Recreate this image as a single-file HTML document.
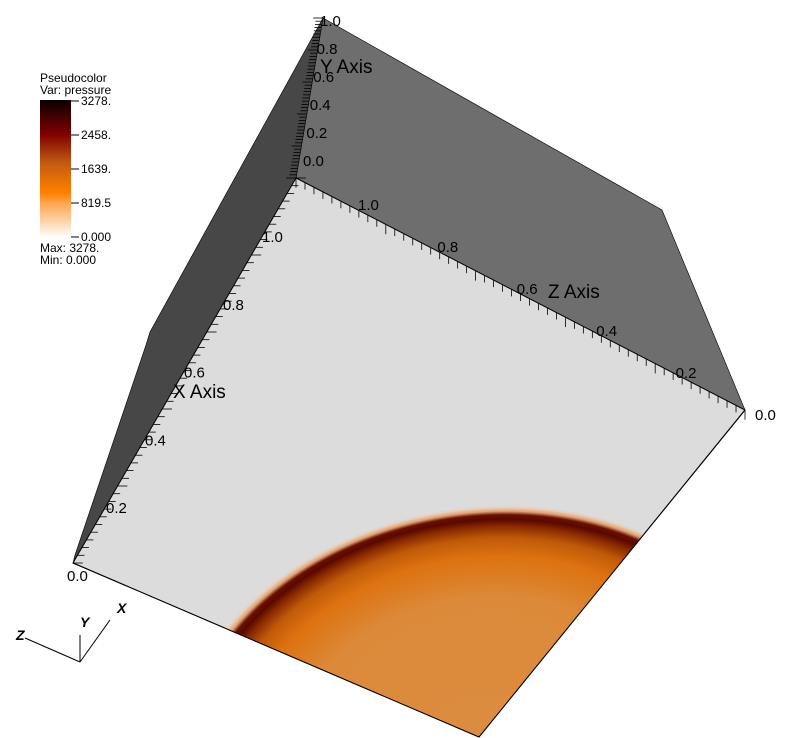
<!DOCTYPE html>
<html><head><meta charset="utf-8"><style>
html,body{margin:0;background:#fff;width:798px;height:738px;overflow:hidden;font-family:"Liberation Sans",sans-serif}
svg{display:block}
svg text{font-family:"Liberation Sans",sans-serif}
</style></head><body>
<svg id="s" width="798" height="738" viewBox="0 0 798 738">
<defs>
<linearGradient id="cb" x1="0" y1="1" x2="0" y2="0">
<stop offset="0" stop-color="#ffffff"/><stop offset="0.25" stop-color="#ffa650"/><stop offset="0.33" stop-color="#ff8000"/>
<stop offset="0.55" stop-color="#c05a10"/><stop offset="0.75" stop-color="#800000"/><stop offset="1" stop-color="#0a0000"/>
</linearGradient>
<clipPath id="fc"><polygon points="296,178 745,410 479,737 73,563"/></clipPath>
<radialGradient id="rg" gradientUnits="userSpaceOnUse" cx="0" cy="0" r="0.625">
<stop offset="0" stop-color="#dc8c40"/><stop offset="0.6" stop-color="#dc8a3a"/><stop offset="0.78" stop-color="#dd7210"/>
<stop offset="0.86" stop-color="#c05a08"/><stop offset="0.91" stop-color="#8a2a00"/><stop offset="0.94" stop-color="#5a0800"/>
<stop offset="0.96" stop-color="#6a1000"/><stop offset="0.975" stop-color="#e0a070"/><stop offset="0.99" stop-color="#e8cfb8"/><stop offset="1" stop-color="#dcdcdc"/>
</radialGradient>
</defs>
<polygon points="323,18 662,210 745,410 296,178" fill="#6e6e6e" stroke="#000" stroke-width="0.6"/>
<polygon points="323,18 296,178 73,563 75,555 146,345 150,332" fill="#474747" stroke="#000" stroke-width="0.6"/>
<polygon points="296,178 745,410 479,737 73,563" fill="#dcdcdc" stroke="#000" stroke-width="1"/>
<g clip-path="url(#fc)">
<circle cx="0" cy="0" r="0.625" fill="url(#rg)" transform="matrix(-406,-174,266,-327,479,737)"/>
</g>
<line x1="479" y1="737" x2="73" y2="563" stroke="#000" stroke-width="1"/>
<line x1="479" y1="737" x2="745" y2="410" stroke="#000" stroke-width="1"/>
<g id="ticks" stroke="#000" stroke-width="0.8"></g>
<g id="labels" font-size="15" fill="#000"></g>
<text x="548" y="298" font-size="19">Z Axis</text>
<text x="173" y="398" font-size="19">X Axis</text>
<text x="320" y="73" font-size="19">Y Axis</text>
<g font-size="12">
<text x="40" y="82">Pseudocolor</text><text x="40" y="94">Var: pressure</text>
<rect x="40" y="100" width="31" height="138" fill="url(#cb)"/>
<g stroke="#000"><line x1="71" y1="101" x2="79" y2="101"/><line x1="71" y1="135" x2="79" y2="135"/><line x1="71" y1="169" x2="79" y2="169"/><line x1="71" y1="203" x2="79" y2="203"/><line x1="71" y1="237" x2="79" y2="237"/></g>
<text x="81" y="105">3278.</text><text x="81" y="139">2458.</text><text x="81" y="173">1639.</text><text x="81" y="207">819.5</text><text x="81" y="241">0.000</text>
<text x="40" y="252">Max:  3278.</text><text x="40" y="264">Min:  0.000</text>
</g>
<g stroke="#000" stroke-width="1">
<line x1="80" y1="662" x2="25" y2="638"/><line x1="80" y1="662" x2="80" y2="635"/><line x1="80" y1="662" x2="110" y2="620"/>
</g>
<g font-size="14" font-style="italic" font-weight="bold"><text x="16" y="640">Z</text><text x="80" y="627">Y</text><text x="117" y="613">X</text></g>
</svg>
<script>
const tickValues=[0,0.2,0.4,0.6,0.8,1.0];
const tickLabels=["0.0","0.2","0.4","0.6","0.8","1.0"];
const NS="http://www.w3.org/2000/svg";
const tg=document.getElementById('ticks'),lg=document.getElementById('labels');
const axes=[
 {n:'z',p0:[745,410],p1:[296,178],d:[0,7],l0:[755,420],l1:[358,210]},
 {n:'x',p0:[73,563],p1:[296,178],d:[7,0],l0:[67,581],l1:[262,242]},
 {n:'y',p0:[296,178],p1:[323,18],d:[-7,0],l0:[303,166],l1:[320,26]}
];
axes.forEach(a=>{
 for(let i=0;i<=50;i++){const t=i/50;const x=a.p0[0]+(a.p1[0]-a.p0[0])*t,y=a.p0[1]+(a.p1[1]-a.p0[1])*t;
  const L=document.createElementNS(NS,'line');const m=(i%10===0)?1.4:1;
  L.setAttribute('x1',x);L.setAttribute('y1',y);L.setAttribute('x2',x+a.d[0]*m);L.setAttribute('y2',y+a.d[1]*m);
  
  
  tg.appendChild(L);}
 tickValues.forEach((v,i)=>{const x=a.l0[0]+(a.l1[0]-a.l0[0])*v,y=a.l0[1]+(a.l1[1]-a.l0[1])*v;
  const T=document.createElementNS(NS,'text');T.setAttribute('x',x);T.setAttribute('y',y);T.textContent=tickLabels[i];
  
  
  lg.appendChild(T);});
});
</script>
</body></html>
